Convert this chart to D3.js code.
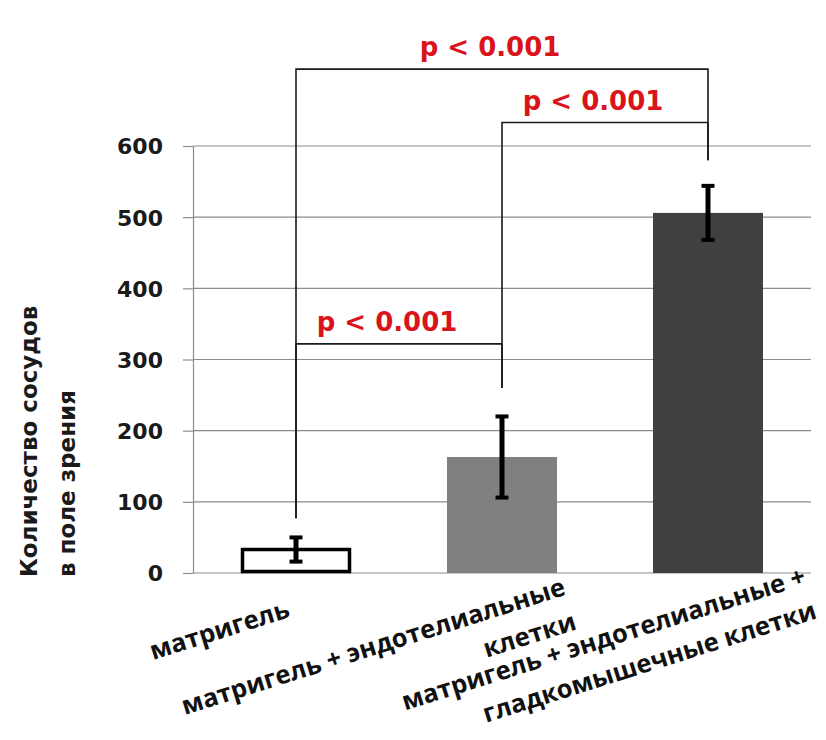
<!DOCTYPE html>
<html>
<head>
<meta charset="utf-8">
<script src="https://cdn.jsdelivr.net/npm/d3@7"></script>
<style>
  body { margin: 0; background: #fff; }
  svg { display: block; }
</style>
</head>
<body>
<div id="chart"></div>
<script>
// данные графика
const categories = ["матригель", "матригель + эндотелиальные клетки", "матригель + эндотелиальные + гладкомышечные клетки"];
const labelLines = [
  ["матригель"],
  ["матригель + эндотелиальные", "клетки"],
  ["матригель + эндотелиальные +", "гладкомышечные клетки"]
];
const means = [33, 163, 506];
const errors = [17, 57, 38];
const barColors = ["#ffffff", "#808080", "#404040"];
const yTicks = [0, 100, 200, 300, 400, 500, 600];

// сравнения: [левый столбец, правый столбец]
const pairs = [[0, 1], [1, 2], [0, 2]];
const pairLevels = [322, 633, 708];      // высота скобки
const pairLeftEnds = [77, 260, 77];      // низ левой ножки
const pairRightEnds = [260, 580, 580];   // низ правой ножки
const pairLabels = ["p < 0.001", "p < 0.001", "p < 0.001"];

const yTitle = ["Количество сосудов", "в поле зрения"];

const W = 826, H = 740;
const margin = {top: 146, right: 15, bottom: 167, left: 193};

const svg = d3.select("#chart")
  .append("svg")
  .attr("width", W)
  .attr("height", H);

const x = d3.scaleBand()
  .domain(categories)
  .range([margin.left, W - margin.right])
  .paddingInner(0.466)
  .paddingOuter(0.233);

const y = d3.scaleLinear()
  .domain([0, 600])
  .range([H - margin.bottom, margin.top]);

// сетка
svg.append("g")
  .selectAll("line")
  .data(yTicks.slice(1))
  .join("line")
    .attr("x1", margin.left)
    .attr("x2", W - margin.right)
    .attr("y1", d => y(d))
    .attr("y2", d => y(d))
    .attr("stroke", "#8c8c8c")
    .attr("stroke-width", 1.2);

// ось Y
const yAxis = svg.append("g")
  .attr("transform", `translate(${margin.left},0)`)
  .call(d3.axisLeft(y).tickValues(yTicks).tickSize(10).tickPadding(20).tickSizeOuter(0));
yAxis.select(".domain").attr("stroke", "#8c8c8c").attr("stroke-width", 1.2);
yAxis.selectAll(".tick line").attr("stroke", "#8c8c8c").attr("stroke-width", 1.2);
yAxis.selectAll(".tick text")
  .attr("font-family", "DejaVu Sans")
  .attr("font-weight", "bold")
  .attr("font-size", "22px")
  .attr("fill", "#1a1a1a")
  .attr("dy", "0.36em");

// ось X (линия)
svg.append("line")
  .attr("x1", margin.left)
  .attr("x2", W - margin.right)
  .attr("y1", y(0))
  .attr("y2", y(0))
  .attr("stroke", "#8c8c8c")
  .attr("stroke-width", 1.2);

// столбцы
svg.append("g")
  .selectAll("rect")
  .data(means)
  .join("rect")
    .attr("x", (d, i) => x(categories[i]) + (i === 0 ? 1.5 : 0))
    .attr("width", (d, i) => x.bandwidth() - (i === 0 ? 3 : 0))
    .attr("y", d => y(d))
    .attr("height", (d, i) => y(0) - y(d) - (i === 0 ? 1.5 : 0))
    .attr("fill", (d, i) => barColors[i])
    .attr("stroke", (d, i) => i === 0 ? "#000" : "none")
    .attr("stroke-width", 3.5);

// планки погрешностей
const eb = svg.append("g")
  .selectAll("g")
  .data(means)
  .join("g")
    .attr("transform", (d, i) => `translate(${x(categories[i]) + x.bandwidth() / 2},0)`);
eb.append("line")
  .attr("y1", (d, i) => y(d + errors[i]))
  .attr("y2", (d, i) => y(d - errors[i]))
  .attr("stroke", "#000")
  .attr("stroke-width", 5);
eb.append("line")
  .attr("x1", -6.5).attr("x2", 6.5)
  .attr("y1", (d, i) => y(d + errors[i]))
  .attr("y2", (d, i) => y(d + errors[i]))
  .attr("stroke", "#000")
  .attr("stroke-width", 4);
eb.append("line")
  .attr("x1", -6.5).attr("x2", 6.5)
  .attr("y1", (d, i) => y(d - errors[i]))
  .attr("y2", (d, i) => y(d - errors[i]))
  .attr("stroke", "#000")
  .attr("stroke-width", 4);

// скобки значимости
const cx = i => x(categories[i]) + x.bandwidth() / 2;
const br = svg.append("g")
  .selectAll("g")
  .data(pairs)
  .join("g");
br.append("path")
  .attr("d", (p, k) => {
    const x1 = cx(p[0]), x2 = cx(p[1]);
    return `M${x1},${y(pairLeftEnds[k])}V${y(pairLevels[k])}H${x2}V${y(pairRightEnds[k])}`;
  })
  .attr("fill", "none")
  .attr("stroke", "#1a1a1a")
  .attr("stroke-width", 1.6);
br.append("text")
  .attr("x", p => (cx(p[0]) + cx(p[1])) / 2 - 12)
  .attr("y", (p, k) => y(pairLevels[k]) - 13)
  .attr("text-anchor", "middle")
  .attr("font-family", "DejaVu Sans")
  .attr("font-weight", "bold")
  .attr("font-size", "26px")
  .attr("fill", "#d9141b")
  .text((p, k) => pairLabels[k]);

// подписи категорий (повёрнуты)
const angle = 17.5;
const labelShift = [-5, 68, 104];  // сдвиг конца первой строки вдоль базовой линии
const labelBase = 42;              // ниже оси
const rad = angle * Math.PI / 180;
const lbl = svg.append("g")
  .selectAll("g")
  .data(labelLines)
  .join("g")
    .attr("transform", (d, i) => {
      const ax = cx(i) + labelShift[i] * Math.cos(rad);
      const ay = y(0) + labelBase - labelShift[i] * Math.sin(rad);
      return `translate(${ax},${ay}) rotate(${-angle})`;
    });
lbl.selectAll("text")
  .data(d => d)
  .join("text")
    .attr("x", 0)
    .attr("y", (d, j) => j * 36)
    .attr("text-anchor", "end")
    .attr("font-family", "Open Sans")
    .attr("font-weight", "bold")
    .attr("font-size", "25.5px")
    .attr("fill", "#111")
    .text(d => d);

// подпись оси Y
svg.append("g")
  .attr("transform", "translate(0,577) rotate(-90)")
  .selectAll("text")
  .data(yTitle)
  .join("text")
    .attr("x", 0)
    .attr("y", (d, j) => 37 + j * 38)
    .attr("font-family", "DejaVu Sans")
    .attr("font-weight", "bold")
    .attr("font-size", "23px")
    .attr("fill", "#1a1a1a")
    .text(d => d);
</script>
</body>
</html>
